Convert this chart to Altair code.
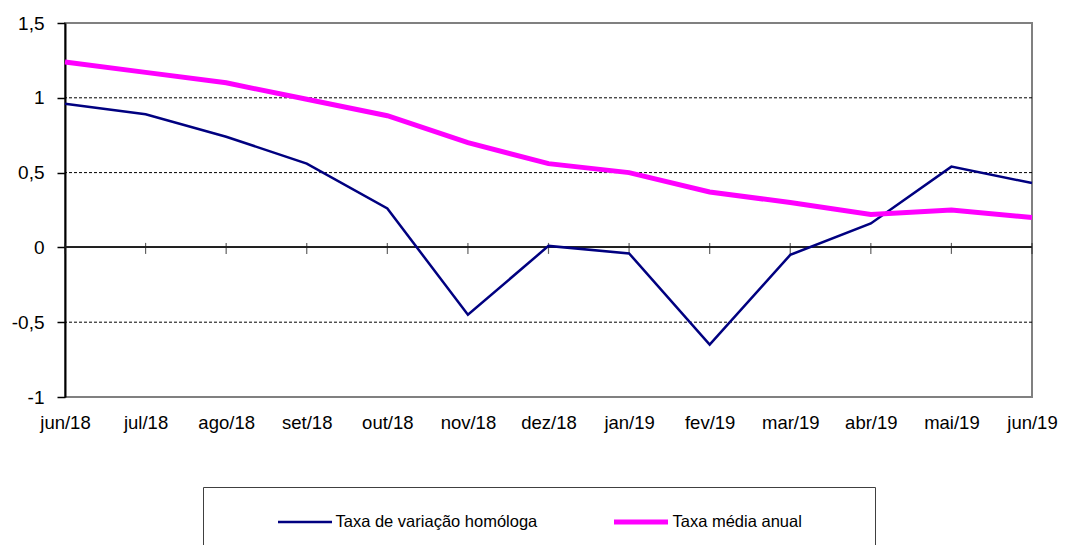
import altair as alt
import pandas as pd

months = ["jun/18", "jul/18", "ago/18", "set/18", "out/18", "nov/18", "dez/18",
          "jan/19", "fev/19", "mar/19", "abr/19", "mai/19", "jun/19"]
homologa = [0.96, 0.89, 0.74, 0.56, 0.26, -0.45, 0.01, -0.04, -0.65, -0.05, 0.16, 0.54, 0.43]
media = [1.24, 1.17, 1.10, 0.99, 0.88, 0.70, 0.56, 0.50, 0.37, 0.30, 0.22, 0.25, 0.20]
series_names = ["Taxa de variação homóloga", "Taxa média anual"]
series_colors = ["#000080", "#FF00FF"]
series_widths = [2.5, 5]
y_ticks = [-1, -0.5, 0, 0.5, 1, 1.5]
grid_vals = [1, 0.5, -0.5]

rows = []
for m, h, a in zip(months, homologa, media):
    rows.append({"mes": m, "serie": series_names[0], "valor": h})
    rows.append({"mes": m, "serie": series_names[1], "valor": a})
df = pd.DataFrame(rows)
df_months = pd.DataFrame({"mes": months})
df_grid = pd.DataFrame({"g": grid_vals})

FONT = "Liberation Sans"

x_enc = alt.X("mes:N", sort=months,
              scale=alt.Scale(type="point", padding=0),
              axis=alt.Axis(labelAngle=0, ticks=False, tickSize=0, domain=False, grid=False,
                            labelPadding=16, labelFontSize=18.5, labelFont=FONT,
                            labelColor="black", title=None, labelOverlap=False))
y_scale = alt.Scale(domain=[-1, 1.5], nice=False, zero=False)

legend = alt.Legend(orient="none", legendX=138, legendY=464, direction="horizontal",
                    title=" ", titleOrient="right", titlePadding=48,
                    symbolType="stroke", symbolSize=2916, symbolOffset=48.5,
                    labelOffset=2, columnPadding=25, padding=25, clipHeight=20,
                    strokeColor="#404040", labelFontSize=16.5, labelFont=FONT,
                    labelColor="black", labelLimit=500)

grid = alt.Chart(df_grid).mark_rule(color="black", strokeWidth=1, strokeDash=[3, 2]).encode(
    y=alt.Y("g:Q", scale=y_scale,
            axis=alt.Axis(values=y_ticks, labelExpr="replace(toString(datum.value), '.', ',')",
                          grid=False, domainColor="black", domainWidth=2, tickColor="black",
                          tickSize=8, tickWidth=1.5, labelFontSize=19, labelFont=FONT,
                          labelColor="black", labelPadding=13, title=None))
)

zero = alt.Chart(df_months).mark_rule(color="#202020", strokeWidth=1.2).encode(
    y=alt.datum(0)
)

ticks = alt.Chart(df_months).mark_tick(orient="vertical", size=11, thickness=1.2,
                                       color="#202020", yOffset=1).encode(
    x=x_enc, y=alt.datum(0)
)

lines = alt.Chart(df).mark_line().encode(
    x=x_enc,
    y=alt.Y("valor:Q", scale=y_scale),
    color=alt.Color("serie:N", scale=alt.Scale(domain=series_names, range=series_colors),
                    legend=legend),
    strokeWidth=alt.StrokeWidth("serie:N", scale=alt.Scale(domain=series_names, range=series_widths),
                                legend=legend),
    order=alt.Order("serie:N", sort="descending"),
)

chart = alt.layer(grid, zero, ticks, lines).properties(
    width=967, height=374,
    autosize=alt.AutoSizeParams(type="none"),
    padding={"left": 57, "top": 15, "right": 27, "bottom": 148},
    background="white",
).configure_view(stroke="#808080", strokeWidth=2)

chart.save("out.html", embed_options={"renderer": "svg", "actions": False})
